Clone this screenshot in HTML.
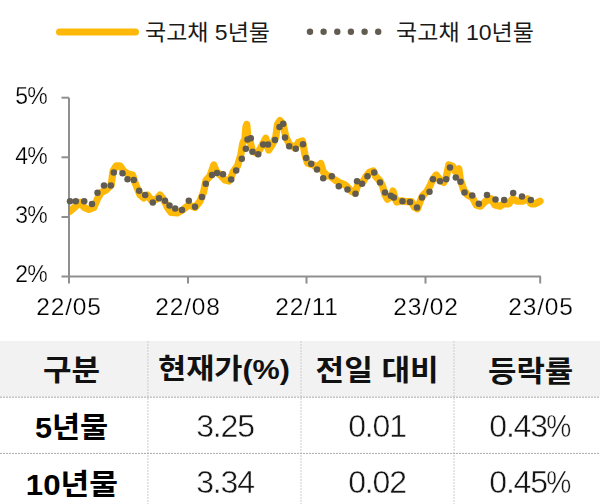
<!DOCTYPE html>
<html lang="ko"><head><meta charset="utf-8"><title>국고채 금리</title>
<style>
html,body{margin:0;padding:0;background:#fff}
body{width:600px;height:504px;position:relative;overflow:hidden;font-family:"Liberation Sans",sans-serif;color:#1a1a1a}
.cv{position:absolute;left:0;top:0}
.t{position:absolute;white-space:nowrap;line-height:1;transform:translateX(-50%);will-change:transform}
.y{font-size:23px;letter-spacing:-0.8px;color:#000;-webkit-text-stroke:0.25px #fff}
.x{font-size:24.5px;letter-spacing:0.8px;color:#000;-webkit-text-stroke:0.25px #fff}
.n{font-size:32px;letter-spacing:-1.2px;color:#161616;-webkit-text-stroke:0.45px #fff}
.pc{display:inline-block;transform:scaleX(.88);transform-origin:0 50%;margin-right:-3.4px}
.sr{position:absolute;left:0;top:0;width:1px;height:1px;overflow:hidden;opacity:0;font-size:1px}
</style></head><body>
<svg class="cv" width="600" height="504" viewBox="0 0 600 504">
<defs><clipPath id="pc"><rect x="68.3" y="90" width="480" height="186"/></clipPath></defs>
<rect x="0" y="341" width="600" height="56" fill="#F2F2F2"/>
<g stroke="#CDCDCD" stroke-width="1" stroke-dasharray="2 1" fill="none">
<line x1="147.9" y1="341" x2="147.9" y2="504"/>
<line x1="301" y1="341" x2="301" y2="504"/>
<line x1="454" y1="341" x2="454" y2="504"/>
</g>
<g stroke="#ABABAB" stroke-width="1" stroke-dasharray="2 1" fill="none">
<line x1="0" y1="397.2" x2="600" y2="397.2"/>
<line x1="0" y1="453.4" x2="600" y2="453.4"/>
</g>
<line x1="59.5" y1="32" x2="135.5" y2="32" stroke="#FDB808" stroke-width="7" stroke-linecap="round"/>
<g fill="#625C50">
<circle cx="310.0" cy="31.7" r="3.2"/>
<circle cx="323.6" cy="31.7" r="3.2"/>
<circle cx="337.3" cy="31.7" r="3.2"/>
<circle cx="350.9" cy="31.7" r="3.2"/>
<circle cx="364.6" cy="31.7" r="3.2"/>
<circle cx="378.2" cy="31.7" r="3.2"/>
</g>
<polyline clip-path="url(#pc)" fill="none" stroke="#FDB808" stroke-width="7.2" stroke-linejoin="round" stroke-linecap="round" points="70,211.2 75.8,206.2 80,202.5 84.2,207.5 88.8,209.5 93.8,207.5 97.5,198.8 101.2,192.5 106.2,190 111.2,185 113,171.2 116.2,165.8 120,165.8 123.8,171.2 127.5,173.8 132.5,175 135,182.5 140,195 143.8,198 147.5,195 151.2,200 156.2,199.5 160,195 163.8,200 167.5,207.5 171.2,212.5 177.5,213 182.5,210 188.8,205 195,207.5 200,201.2 203.5,192.5 206,180.5 210,176 213.8,165 216.2,171 221.2,176 225,180 229,181 231,177.5 233.3,171.7 237.5,166 240.8,155 242.7,143.5 245,138.5 245.9,127 246.8,124.5 247.8,136.5 250,141 252.5,151 257.5,153.5 261.7,146 265.8,138.3 268.7,150 272.5,144.2 275.8,136.7 277.5,124.5 280,120.5 283.3,125 285.8,136.7 289.2,144.2 295,148 298.3,142.5 302.5,141 305,155 307.5,163 313.3,165 316.7,167.5 320.8,163.5 323.3,172 327.5,175.8 330,176 335,180 340,182.8 345,184.8 348.3,188 351.7,191.5 355,193 357.5,185.8 360,182.5 363.3,181.7 365.8,176.7 369.2,172.5 373.3,171 375.8,176.7 380,180.8 382.5,185.8 385,195 387.5,199.2 390.8,196.7 393,191 395,198.3 396.7,202 401.7,200.8 406.7,201.7 411.7,201.7 414.2,207 417.5,208.7 420,201.7 422.5,195.8 426.7,191.7 430,185.8 432.5,180 436.2,175 440,180 443.8,182.5 446.2,177.5 448.8,165 452.5,166.2 455,171.2 458.8,168.8 460.5,180 463.8,190 467.5,195 472.5,197.5 476.2,205 480.5,206.2 485.5,201.2 491,198.8 495,205 500,206.2 503.8,203.8 508.8,203.8 512.5,198.8 517.5,201.2 522.5,201.2 527.5,198.8 531.2,203.8 535,203.8 540,201.2"/>
<g stroke="#8F8F8F" stroke-width="2" stroke-linejoin="round" fill="none">
<path d="M69 97.7V283.6M61.5 276.6H540.2V283.6"/>
<path d="M61.5 97.7H69"/>
<path d="M61.5 157.3H69"/>
<path d="M61.5 217H69"/>
<path d="M188 276.6V283.6"/>
<path d="M306.5 276.6V283.6"/>
<path d="M425.5 276.6V283.6"/>
</g>
<g fill="#625C50">
<circle cx="70" cy="201.2" r="3.25"/>
<circle cx="75.8" cy="201.2" r="3.25"/>
<circle cx="84.2" cy="201.2" r="3.25"/>
<circle cx="92" cy="204" r="3.25"/>
<circle cx="97.5" cy="192.8" r="3.25"/>
<circle cx="104" cy="185.5" r="3.25"/>
<circle cx="110.8" cy="185.5" r="3.25"/>
<circle cx="113.8" cy="172.5" r="3.25"/>
<circle cx="122.5" cy="173.2" r="3.25"/>
<circle cx="127.5" cy="179.2" r="3.25"/>
<circle cx="133.8" cy="180" r="3.25"/>
<circle cx="139.2" cy="190.8" r="3.25"/>
<circle cx="145.2" cy="195" r="3.25"/>
<circle cx="152.8" cy="202.5" r="3.25"/>
<circle cx="159" cy="198.2" r="3.25"/>
<circle cx="165" cy="200.8" r="3.25"/>
<circle cx="169.5" cy="205.5" r="3.25"/>
<circle cx="175.2" cy="208.5" r="3.25"/>
<circle cx="182" cy="210" r="3.25"/>
<circle cx="188.8" cy="200.8" r="3.25"/>
<circle cx="195" cy="206.8" r="3.25"/>
<circle cx="202" cy="197" r="3.25"/>
<circle cx="205.8" cy="183.8" r="3.25"/>
<circle cx="212" cy="175" r="3.25"/>
<circle cx="217" cy="173" r="3.25"/>
<circle cx="223" cy="174.2" r="3.25"/>
<circle cx="231.2" cy="179.5" r="3.25"/>
<circle cx="236.2" cy="170.5" r="3.25"/>
<circle cx="241.8" cy="158.8" r="3.25"/>
<circle cx="245.8" cy="148.8" r="3.25"/>
<circle cx="247.5" cy="139.5" r="3.25"/>
<circle cx="250.8" cy="138.2" r="3.25"/>
<circle cx="252.5" cy="151.8" r="3.25"/>
<circle cx="258.2" cy="154.2" r="3.25"/>
<circle cx="263.2" cy="144.5" r="3.25"/>
<circle cx="268" cy="144.5" r="3.25"/>
<circle cx="275" cy="140" r="3.25"/>
<circle cx="279.5" cy="127" r="3.25"/>
<circle cx="283.2" cy="123.8" r="3.25"/>
<circle cx="285" cy="137.5" r="3.25"/>
<circle cx="289.2" cy="146.2" r="3.25"/>
<circle cx="295.8" cy="148.8" r="3.25"/>
<circle cx="303" cy="144.2" r="3.25"/>
<circle cx="306.2" cy="158" r="3.25"/>
<circle cx="311.2" cy="163.8" r="3.25"/>
<circle cx="317" cy="169.5" r="3.25"/>
<circle cx="323.2" cy="178.2" r="3.25"/>
<circle cx="331.8" cy="176.2" r="3.25"/>
<circle cx="338.8" cy="186.2" r="3.25"/>
<circle cx="347.5" cy="189.5" r="3.25"/>
<circle cx="355.5" cy="193.8" r="3.25"/>
<circle cx="357" cy="181.2" r="3.25"/>
<circle cx="362" cy="183.8" r="3.25"/>
<circle cx="367.5" cy="176.2" r="3.25"/>
<circle cx="374.2" cy="172.5" r="3.25"/>
<circle cx="380" cy="182.5" r="3.25"/>
<circle cx="385" cy="192.5" r="3.25"/>
<circle cx="390.8" cy="195.8" r="3.25"/>
<circle cx="393.8" cy="197.5" r="3.25"/>
<circle cx="402.5" cy="201.2" r="3.25"/>
<circle cx="410" cy="202" r="3.25"/>
<circle cx="417" cy="207.5" r="3.25"/>
<circle cx="422" cy="197.5" r="3.25"/>
<circle cx="429.5" cy="191.8" r="3.25"/>
<circle cx="433" cy="179.2" r="3.25"/>
<circle cx="440" cy="181.2" r="3.25"/>
<circle cx="446.2" cy="179.2" r="3.25"/>
<circle cx="450" cy="167.5" r="3.25"/>
<circle cx="455.8" cy="177.5" r="3.25"/>
<circle cx="460.5" cy="181.8" r="3.25"/>
<circle cx="464.5" cy="192.5" r="3.25"/>
<circle cx="472.2" cy="195.5" r="3.25"/>
<circle cx="478.8" cy="203.8" r="3.25"/>
<circle cx="487" cy="195" r="3.25"/>
<circle cx="495.5" cy="199.5" r="3.25"/>
<circle cx="504.2" cy="200" r="3.25"/>
<circle cx="513.2" cy="193" r="3.25"/>
<circle cx="522" cy="196.5" r="3.25"/>
<circle cx="530.8" cy="200" r="3.25"/>
</g>
<g fill="#1a1a1a" font-family="'Liberation Sans','Noto Sans CJK KR',sans-serif" font-size="22">
<text x="145" y="40.1" textLength="125" lengthAdjust="spacingAndGlyphs">국고채 5년물</text>
<text x="396" y="40.1" textLength="138" lengthAdjust="spacingAndGlyphs">국고채 10년물</text>
</g><g fill="#111" font-family="'Liberation Sans','Noto Sans CJK KR',sans-serif" font-weight="bold" font-size="29">
<text x="43" y="380.9" textLength="57" lengthAdjust="spacingAndGlyphs">구분</text>
<text x="158" y="379.1" font-size="28" textLength="132" lengthAdjust="spacingAndGlyphs">현재가(%)</text>
<text x="315.5" y="381.1" textLength="123.2" lengthAdjust="spacingAndGlyphs">전일 대비</text>
<text x="488" y="381.9" textLength="85.3" lengthAdjust="spacingAndGlyphs">등락률</text>
</g><g fill="#000" font-family="'Liberation Sans','Noto Sans CJK KR',sans-serif" font-weight="bold" font-size="29">
<text x="34.9" y="438.3" textLength="73.4" lengthAdjust="spacingAndGlyphs">5년물</text>
<text x="25.8" y="494.9" textLength="92.2" lengthAdjust="spacingAndGlyphs">10년물</text>
</g>
</svg>
<div class="sr">국고채 5년물 · 국고채 10년물 · 구분 · 현재가(%) · 전일 대비 · 등락률 · 5년물 · 10년물</div>
<div class="t y" style="left:31px;top:85px">5%</div>
<div class="t y" style="left:31px;top:144.5px">4%</div>
<div class="t y" style="left:31px;top:204px">3%</div>
<div class="t y" style="left:31px;top:263px">2%</div>
<div class="t x" style="left:69px;top:294.6px">22/05</div>
<div class="t x" style="left:188.4px;top:294.6px">22/08</div>
<div class="t x" style="left:306.6px;top:294.6px">22/11</div>
<div class="t x" style="left:426.2px;top:294.6px">23/02</div>
<div class="t x" style="left:540.6px;top:294.6px">23/05</div>
<div class="t n" style="left:224.7px;top:410.1px">3.25</div>
<div class="t n" style="left:377.3px;top:410.1px">0.01</div>
<div class="t n" style="left:530.4px;top:410.1px">0.43<span class="pc">%</span></div>
<div class="t n" style="left:224.7px;top:466.1px">3.34</div>
<div class="t n" style="left:377.3px;top:466.1px">0.02</div>
<div class="t n" style="left:530.4px;top:466.1px">0.45<span class="pc">%</span></div>
</body></html>
